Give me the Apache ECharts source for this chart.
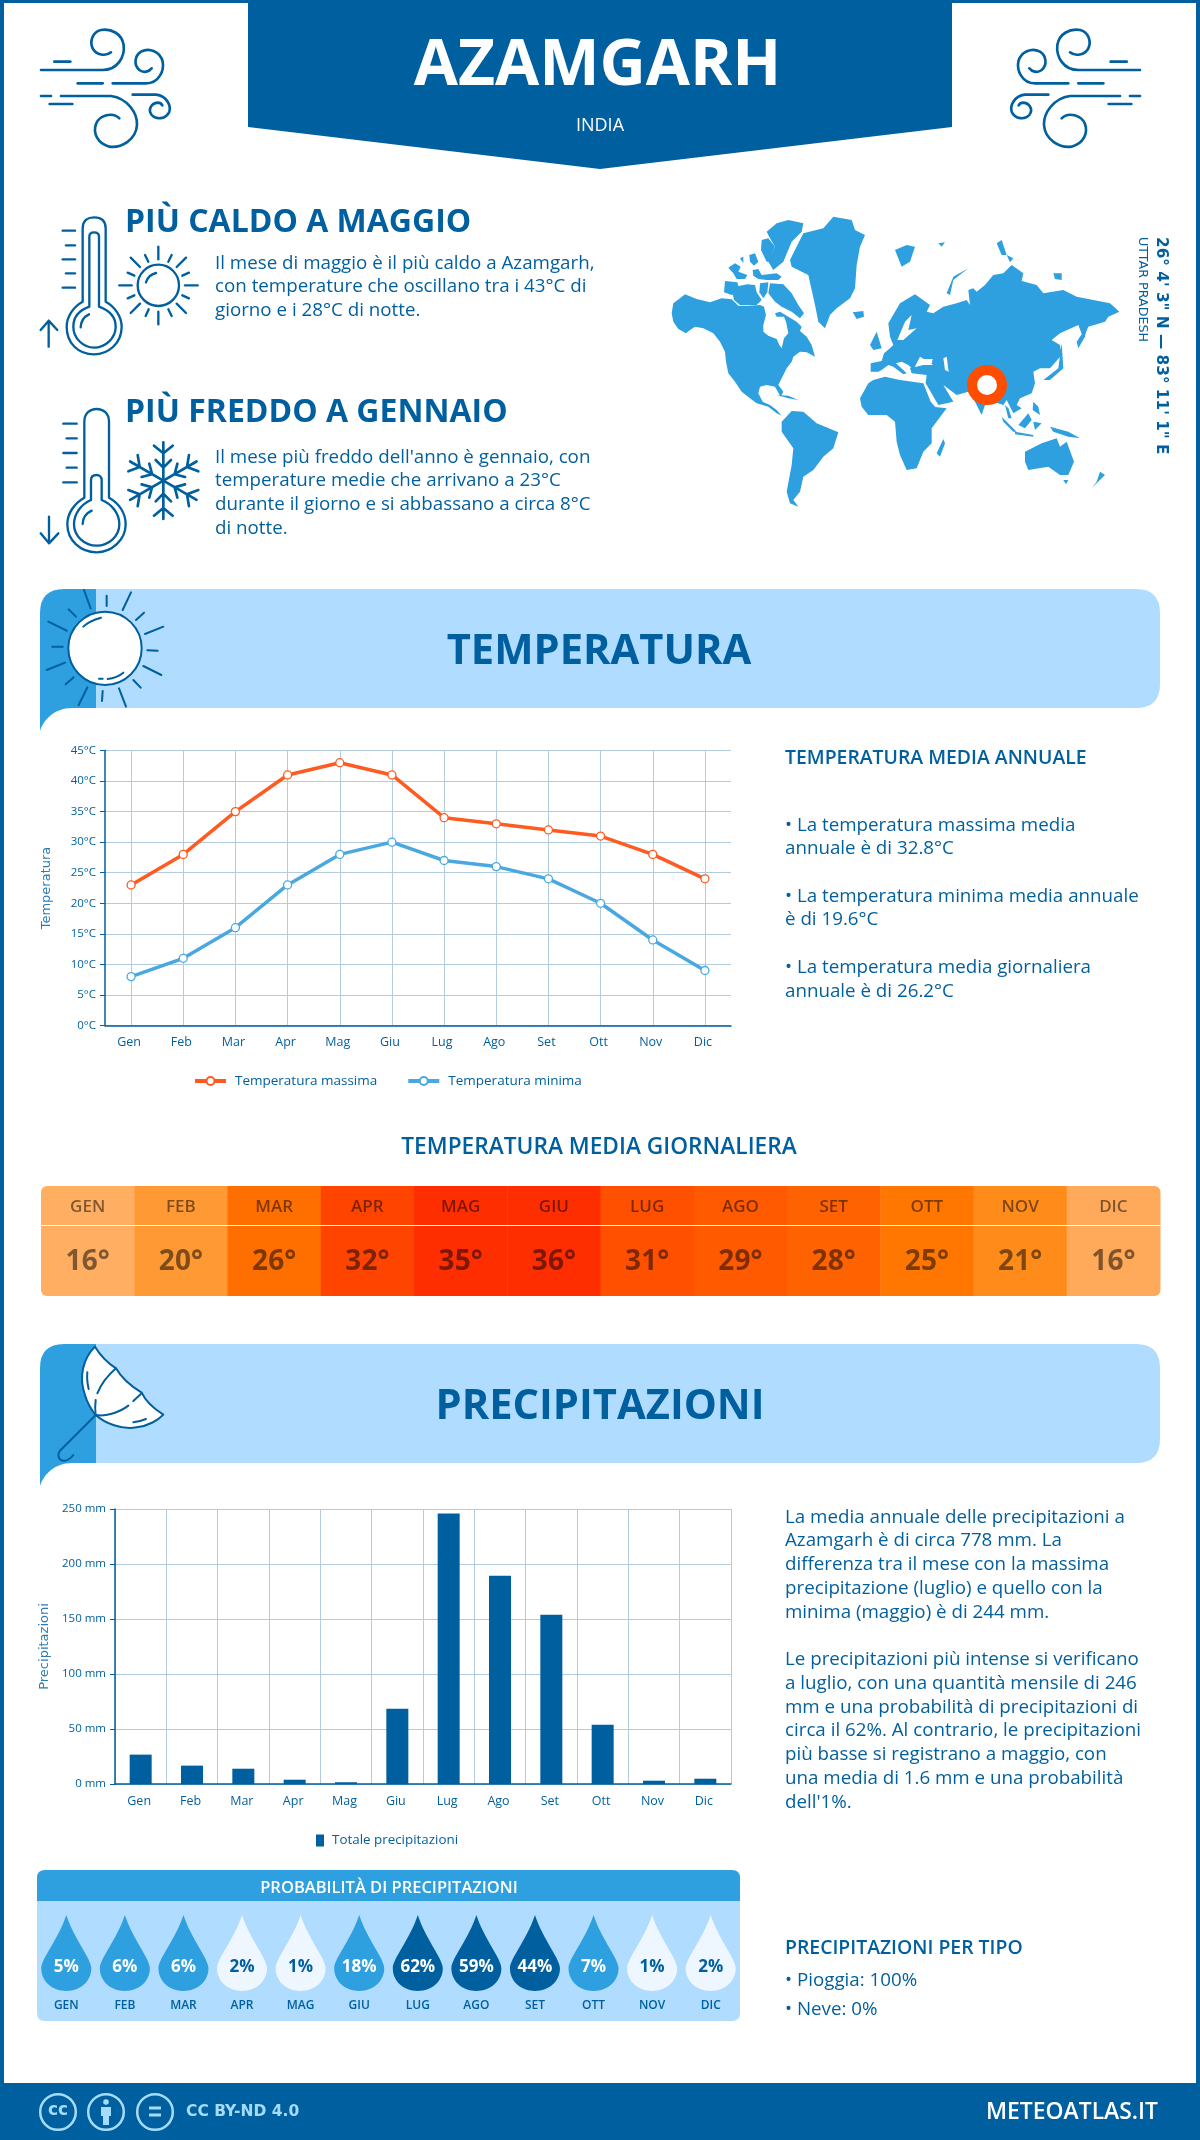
<!DOCTYPE html>
<html>
<head>
<meta charset="utf-8">
<title>Azamgarh</title>
<script src="https://cdn.jsdelivr.net/npm/echarts@6/dist/echarts.min.js"></script>
<style>
html, body { margin: 0; padding: 0; background: #fff; }
#main { width: 1200px; height: 2140px; }
</style>
</head>
<body>
<div id="main"></div>
<script>
'use strict';

var months = ['Gen', 'Feb', 'Mar', 'Apr', 'Mag', 'Giu', 'Lug', 'Ago', 'Set', 'Ott', 'Nov', 'Dic'];
var monthsUpper = ['GEN', 'FEB', 'MAR', 'APR', 'MAG', 'GIU', 'LUG', 'AGO', 'SET', 'OTT', 'NOV', 'DIC'];
var tempMax = [23, 28, 35, 41, 43, 41, 34, 33, 32, 31, 28, 24];
var tempMin = [8, 11, 16, 23, 28, 30, 27, 26, 24, 20, 14, 9];
var dailyTemp = [16, 20, 26, 32, 35, 36, 31, 29, 28, 25, 21, 16];
var rain = [26.7, 16.7, 13.9, 3.9, 1.6, 68.5, 246, 189.4, 153.9, 53.9, 3, 4.8];
var rainProb = [5, 6, 6, 2, 1, 18, 62, 59, 44, 7, 1, 2];

var BLUE = '#005f9e', SKY = '#2e9fdf', PALE = '#b0dcff', GRIDC = '#b3cbde';
var FONT = '"Open Sans"';
var BODY = '18.75px ' + FONT, HEAD = '600 19.4px ' + FONT;
var heatColors = ['#ffae62', '#ff9933', '#ff6f00', '#ff4400', '#ff2e00', '#ff2e00', '#ff5000', '#ff5a00', '#ff6200', '#ff7700', '#ff8c1a', '#ffa95a'];

// world map outline, traced in a 3x crop of the picture (origin 660,205)
var mapLand = [
    [[40,295],[60,280],[75,268],[110,282],[150,292],[185,280],[215,283],[235,302],[265,302],[300,300],[312,305],[318,330],[310,360],[310,380],[325,392],[350,402],[358,420],[365,430],[372,400],[385,385],[378,350],[372,335],[350,335],[345,325],[360,320],[385,335],[410,350],[425,365],[420,378],[440,395],[455,420],[465,455],[440,442],[420,440],[400,455],[395,470],[380,490],[365,520],[355,540],[370,560],[362,575],[345,545],[320,540],[300,545],[295,565],[308,590],[330,600],[350,615],[365,632],[350,625],[325,605],[290,595],[268,578],[245,560],[225,530],[205,505],[198,470],[195,440],[180,410],[160,385],[130,370],[105,365],[90,375],[50,408],[78,385],[55,372],[40,350],[35,325]],
    [[320,80],[350,55],[385,45],[430,55],[425,80],[395,110],[370,170],[340,195],[325,170],[345,125],[330,100]],
    [[330,235],[370,238],[395,265],[415,300],[432,325],[420,340],[395,320],[365,305],[345,290],[325,265]],
    [[195,228],[232,232],[240,262],[215,270],[192,262]],
    [[218,265],[225,245],[262,238],[285,240],[290,262],[305,285],[290,300],[240,300],[222,285]],
    [[205,188],[225,175],[242,185],[235,200],[262,210],[255,222],[230,222],[220,205]],
    [[278,195],[295,192],[305,210],[350,205],[365,215],[355,225],[320,225],[295,222],[280,212]],
    [[305,105],[325,100],[345,125],[335,150],[340,170],[320,170],[303,135]],
    [[268,150],[285,145],[295,170],[282,182],[270,170]],
    [[240,160],[250,155],[250,175]],
    [[300,235],[325,232],[322,262],[310,280],[298,262]],
    [[390,165],[430,85],[490,70],[520,35],[575,45],[585,75],[615,90],[600,125],[590,180],[585,250],[570,280],[530,310],[510,330],[495,370],[475,350],[465,300],[445,210],[395,185]],
    [[578,322],[610,318],[612,335],[590,342]],
    [[365,650],[395,618],[430,620],[470,655],[535,682],[520,730],[490,755],[460,795],[430,815],[420,860],[400,885],[415,905],[390,895],[380,860],[395,780],[400,730],[365,680]],
    [[600,580],[625,535],[640,525],[675,515],[720,525],[790,535],[812,590],[826,606],[860,610],[815,670],[815,715],[790,740],[770,790],[740,795],[720,750],[710,710],[705,650],[680,630],[625,630],[605,605]],
    [[830,745],[850,702],[855,715],[840,755]],
    [[632,500],[632,475],[665,468],[672,445],[690,430],[700,420],[690,395],[685,355],[720,295],[765,268],[810,300],[800,320],[820,325],[850,305],[890,295],[920,285],[930,300],[925,255],[940,250],[950,260],[975,240],[1000,210],[1030,205],[1055,180],[1090,205],[1085,228],[1130,240],[1150,265],[1210,255],[1250,275],[1300,285],[1350,295],[1378,320],[1345,335],[1335,350],[1285,365],[1270,400],[1255,360],[1200,385],[1175,405],[1200,420],[1205,450],[1170,490],[1140,490],[1120,500],[1125,535],[1115,565],[1080,580],[1070,600],[1085,610],[1060,625],[1040,585],[1030,600],[1000,590],[975,600],[965,630],[945,590],[925,560],[890,570],[850,540],[880,590],[835,600],[797,535],[800,510],[755,505],[750,490],[790,480],[820,480],[780,455],[770,475],[760,495],[745,480],[725,470],[708,475],[740,505],[730,508],[700,485],[685,480],[665,495],[655,500]],
    [[630,420],[650,380],[665,430],[640,435]],
    [[860,265],[880,215],[925,190],[880,225],[870,270]],
    [[705,135],[740,120],[765,125],[750,170],[725,185]],
    [[835,115],[855,112],[845,125]],
    [[1010,115],[1025,105],[1040,150],[1025,150]],
    [[1040,150],[1060,160],[1050,172]],
    [[1180,205],[1205,205],[1205,225],[1185,222]],
    [[1250,410],[1280,365],[1275,395],[1255,430]],
    [[1150,525],[1195,490],[1205,415],[1210,490],[1170,525]],
    [[1025,635],[1070,680],[1060,680],[1030,650]],
    [[1065,680],[1120,690],[1120,695],[1065,688]],
    [[1075,660],[1105,625],[1115,645],[1095,670]],
    [[1120,650],[1145,655],[1125,675]],
    [[1170,665],[1225,680],[1260,700],[1225,695],[1180,680]],
    [[1120,590],[1135,605],[1140,630],[1118,615]],
    [[1035,600],[1045,610],[1055,640],[1045,640]],
    [[1095,740],[1145,715],[1190,700],[1200,725],[1220,710],[1242,770],[1225,810],[1200,810],[1165,785],[1105,795],[1095,770]],
    [[1210,825],[1225,825],[1218,838]],
    [[1295,850],[1335,810],[1320,800],[1310,830]],
    [[350,570],[385,572],[415,585],[385,580]]
];
var mapWater = [
    [[735,350],[755,330],[745,375],[770,370],[730,405],[712,405]],
    [[785,462],[818,462],[815,476],[792,474]],
    [[850,460],[860,455],[866,500],[855,495]]
];

function txt(text, x, y, font, fill, align) {
    return {
        type: 'text', x: x, y: y + 1,
        style: {
            text: text, font: font, fill: fill || BLUE,
            align: align || 'left', textAlign: align || 'left',
            verticalAlign: 'middle', textVerticalAlign: 'middle'
        }
    };
}

function icon(x, y, paths, lineWidth, sx) {
    return {
        type: 'group', x: x, y: y, scaleX: sx || 1 / 3, scaleY: 1 / 3,
        children: paths.map(function (d) {
            return { type: 'path', shape: { pathData: d }, style: { fill: 'none', stroke: BLUE, lineWidth: lineWidth, lineCap: 'round', lineJoin: 'round' } };
        })
    };
}

function band(top, label, cx) {
    var b = top + 119, c = top + 142;
    return [
        { type: 'path', shape: { pathData: 'M96,' + top + ' H1136 Q1160,' + top + ' 1160,' + (top + 24) + ' V' + (b - 24) + ' Q1160,' + b + ' 1136,' + b + ' H96 Z' }, style: { fill: PALE } },
        { type: 'path', shape: { pathData: 'M96,' + top + ' H64 Q40,' + top + ' 40,' + (top + 24) + ' V' + c + ' C44,' + (b + 11) + ' 55,' + b + ' 72,' + b + ' H96 Z' }, style: { fill: SKY } },
        txt(label, cx, top + 62, 'bold 41.7px ' + FONT, BLUE, 'center')
    ];
}

var windPaths = [
    'M30,150 H215 C260,150 282,110 278,75 C272,40 240,25 210,30 C185,35 175,65 185,85 C195,105 225,110 240,97',
    'M70,125 H118',
    'M245,190 H345 C385,190 400,150 395,125 C388,95 355,82 330,95 C310,108 308,135 325,150 C338,160 355,155 362,145',
    'M140,190 H215',
    'M90,228 H240 C290,235 320,280 318,315 C315,360 270,385 235,380 C200,370 185,340 195,312 C205,285 245,275 265,295',
    'M30,228 H60', 'M56,252 H124',
    'M305,224 H375 C410,228 420,260 415,275 C405,298 375,300 362,285 C350,270 360,250 380,248 C388,248 392,252 394,256'
];
var hotPaths = [
    'M158,290 V70 C158,45 175,37 192,37 C210,37 227,45 227,70 V290 C255,305 275,335 275,365 C275,415 235,448 192,448 C145,448 110,415 110,365 C110,335 130,305 158,290 Z',
    'M178,305 V95 C178,85 185,82 192,82 C200,82 207,85 207,95 V305 C235,315 257,335 257,365 C257,400 225,428 192,428 C160,428 130,400 130,365 C130,335 150,315 178,305 Z',
    'M152,367 C153,350 162,335 177,328',
    'M98,77 H135', 'M108,121 H135', 'M98,163 H135', 'M108,205 H135', 'M98,248 H135',
    'M56,425 V347 M32,375 L56,347 L82,375',
    'M323,241 A62,62 0 1 1 447,241 A62,62 0 1 1 323,241 Z',
    'M348,232 C352,218 362,208 378,204',
    'M385,125 V163', 'M385,320 V358', 'M268,241 H305', 'M465,241 H503',
    'M302,158 L330,186', 'M468,158 L440,186', 'M302,324 L330,296', 'M468,324 L440,296',
    'M345,150 L355,170', 'M425,150 L415,170', 'M293,203 L313,212', 'M477,203 L457,212',
    'M293,280 L313,271', 'M477,280 L457,271', 'M347,333 L356,313', 'M425,333 L415,313'
];
var coldPaths = [
    'M163,878 V650 C163,625 180,612 200,612 C220,612 237,625 237,650 V878 C268,895 287,925 287,958 C287,1005 245,1042 200,1042 C150,1042 112,1005 112,958 C112,925 133,895 163,878 Z',
    'M183,885 V825 C183,815 190,810 200,810 C208,810 215,815 215,825 V885 C245,897 268,925 268,958 C268,995 235,1022 200,1022 C165,1022 132,995 132,958 C132,925 155,897 183,885 Z',
    'M158,957 C158,940 168,925 185,917',
    'M100,656 H140', 'M110,700 H140', 'M100,744 H140', 'M110,788 H140', 'M100,832 H140',
    'M57,935 V1015 M32,985 L57,1015 L85,985'
];
var sunRays = [
    'M162,30 L182,85', 'M230,47 L230,78', 'M303,37 L278,90', 'M342,98 L318,120', 'M400,140 L345,162', 'M352,211 L383,212',
    'M340,258 L394,285', 'M310,300 L332,323', 'M267,325 L288,380', 'M218,333 L216,363', 'M172,322 L146,375', 'M131,292 L107,313',
    'M105,248 L50,270', 'M98,200 L67,200', 'M110,152 L55,125', 'M138,110 L116,88',
    'M160,140 C175,125 195,118 213,113', 'M207,296 H218', 'M233,297 C250,295 268,288 280,278'
];
var umbrellaRibs = [
    'M258,85 C235,105 212,135 202,160', 'M197,180 C195,195 195,210 197,225', 'M197,225 C225,230 265,220 295,197',
    'M310,183 L335,160', 'M172,97 C170,115 172,130 176,147', 'M310,247 C322,245 335,242 348,237',
    'M197,225 L92,330 C78,345 88,365 105,362 C115,360 122,355 130,345'
];

// ---- static page parts, the graphic component has no svg path so a custom series draws them
var page = [];

page.push({ type: 'rect', shape: { x: 0, y: 0, width: 1200, height: 3 }, style: { fill: BLUE } });
page.push({ type: 'rect', shape: { x: 0, y: 0, width: 4, height: 2140 }, style: { fill: BLUE } });
page.push({ type: 'rect', shape: { x: 1196, y: 0, width: 4, height: 2140 }, style: { fill: BLUE } });
page.push({ type: 'path', shape: { pathData: 'M248,0 H952 V127 L600,169 L248,127 Z' }, style: { fill: BLUE } });
page.push(txt('AZAMGARH', 597.5, 65.5, 'bold 64px ' + FONT, '#fff', 'center'));
page.push(txt('INDIA', 600, 125, '18px ' + FONT, '#fff', 'center'));
page.push(icon(31, 20, windPaths, 8));
page.push(icon(1150, 20, windPaths, 8, -1 / 3));

page.push(txt('PIÙ CALDO A MAGGIO', 125, 221.5, 'bold 32px ' + FONT));
page.push(txt('Il mese di maggio è il più caldo a Azamgarh,', 215, 263, BODY));
page.push(txt('con temperature che oscillano tra i 43°C di', 215, 286, BODY));
page.push(txt('giorno e i 28°C di notte.', 215, 310, BODY));
page.push(txt('PIÙ FREDDO A GENNAIO', 125, 411.5, 'bold 32px ' + FONT));
page.push(txt("Il mese più freddo dell'anno è gennaio, con", 215, 457, BODY));
page.push(txt('temperature medie che arrivano a 23°C', 215, 480, BODY));
page.push(txt('durante il giorno e si abbassano a circa 8°C', 215, 504, BODY));
page.push(txt('di notte.', 215, 528, BODY));
page.push(icon(30, 205, hotPaths, 7));
page.push(icon(30, 205, coldPaths, 7));
for (var k = 0; k < 6; k++) {
    page.push({
        type: 'group', x: 30, y: 205, scaleX: 1 / 3, scaleY: 1 / 3,
        children: [{
            type: 'path', originX: 400, originY: 827, rotation: k * Math.PI / 3,
            shape: { pathData: 'M400,827 V712 M372,722 L400,745 L428,722 M377,765 L400,788 L423,765' },
            style: { fill: 'none', stroke: BLUE, lineWidth: 8, lineCap: 'round', lineJoin: 'round' }
        }]
    });
}

page.push({
    type: 'group', x: 660, y: 205, scaleX: 1 / 3, scaleY: 1 / 3,
    children: mapLand.map(function (p) {
        return { type: 'polygon', shape: { points: p }, style: { fill: SKY } };
    }).concat(mapWater.map(function (p) {
        return { type: 'polygon', shape: { points: p }, style: { fill: '#fff' } };
    }))
});
page.push({ type: 'circle', shape: { cx: 987, cy: 385, r: 15 }, style: { fill: '#fff', stroke: '#ff4d00', lineWidth: 10 } });
var latText = txt('26° 4\' 3" N — 83° 11\' 1" E', 1161, 236, 'bold 15.3px "DejaVu Sans"');
latText.rotation = -Math.PI / 2;
page.push(latText);
var regionText = txt('UTTAR PRADESH', 1142, 236, '12.7px "DejaVu Sans"');
regionText.rotation = -Math.PI / 2;
page.push(regionText);

page = page.concat(band(589, 'TEMPERATURA', 599));
page.push({ type: 'group', x: 30, y: 580, scaleX: 1 / 3, scaleY: 1 / 3, children: [
    { type: 'circle', shape: { cx: 225, cy: 205, r: 110 }, style: { fill: '#fff', stroke: BLUE, lineWidth: 6 } }
] });
page.push(icon(30, 580, sunRays, 6));

page.push(txt('TEMPERATURA MEDIA ANNUALE', 785, 757, HEAD));
page.push(txt('• La temperatura massima media', 785, 825, BODY));
page.push(txt('annuale è di 32.8°C', 785, 848, BODY));
page.push(txt('• La temperatura minima media annuale', 785, 896, BODY));
page.push(txt('è di 19.6°C', 785, 919, BODY));
page.push(txt('• La temperatura media giornaliera', 785, 967, BODY));
page.push(txt('annuale è di 26.2°C', 785, 991, BODY));
page.push(txt('TEMPERATURA MEDIA GIORNALIERA', 599, 1147, '600 22.7px ' + FONT, BLUE, 'center'));

page = page.concat(band(1344, 'PRECIPITAZIONI', 600));
page.push({ type: 'group', x: 30, y: 1340, scaleX: 1 / 3, scaleY: 1 / 3, children: [
    { type: 'path', shape: { pathData: 'M195,20 C160,55 145,110 165,165 C172,190 185,210 197,225 C225,250 275,270 320,262 C355,258 385,240 400,224 C370,205 345,180 335,158 C305,140 275,115 258,85 C235,70 210,45 195,20 Z' }, style: { fill: '#fff', stroke: BLUE, lineWidth: 6, lineJoin: 'round' } }
] });
page.push(icon(30, 1340, umbrellaRibs, 6));

[['La media annuale delle precipitazioni a', 1517], ['Azamgarh è di circa 778 mm. La', 1540], ['differenza tra il mese con la massima', 1564],
    ['precipitazione (luglio) e quello con la', 1588], ['minima (maggio) è di 244 mm.', 1612],
    ['Le precipitazioni più intense si verificano', 1659], ['a luglio, con una quantità mensile di 246', 1683],
    ['mm e una probabilità di precipitazioni di', 1707], ['circa il 62%. Al contrario, le precipitazioni', 1730],
    ['più basse si registrano a maggio, con', 1754], ['una media di 1.6 mm e una probabilità', 1778], ["dell'1%.", 1802]
].forEach(function (l) {
    page.push(txt(l[0], 785, l[1], BODY));
});

page.push({ type: 'path', shape: { pathData: 'M37,1901 V1878 Q37,1870 45,1870 H732 Q740,1870 740,1878 V1901 Z' }, style: { fill: SKY } });
page.push({ type: 'path', shape: { pathData: 'M37,1901 H740 V2013 Q740,2021 732,2021 H45 Q37,2021 37,2013 Z' }, style: { fill: PALE } });
page.push(txt('PROBABILITÀ DI PRECIPITAZIONI', 389, 1887, '600 16.5px ' + FONT, '#fff', 'center'));
page.push(txt('PRECIPITAZIONI PER TIPO', 785, 1947, HEAD));
page.push(txt('• Pioggia: 100%', 785, 1980, BODY));
page.push(txt('• Neve: 0%', 785, 2009, BODY));

page.push({ type: 'rect', shape: { x: 0, y: 2083, width: 1200, height: 57 }, style: { fill: BLUE } });
[58, 106, 155].forEach(function (cx) {
    page.push({ type: 'circle', shape: { cx: cx, cy: 2112, r: 17.8 }, style: { fill: 'none', stroke: '#a5dcfb', lineWidth: 2.5 } });
});
page.push(txt('cc', 58, 2109.5, 'bold 17px "DejaVu Sans"', '#a5dcfb', 'center'));
page.push({ type: 'circle', shape: { cx: 106, cy: 2102, r: 2.8 }, style: { fill: '#a5dcfb' } });
page.push({ type: 'path', shape: { pathData: 'M101,2107 H111 V2116 H109 V2125 H103 V2116 H101 Z' }, style: { fill: '#a5dcfb' } });
page.push({ type: 'rect', shape: { x: 149, y: 2106.5, width: 12, height: 3 }, style: { fill: '#a5dcfb' } });
page.push({ type: 'rect', shape: { x: 149, y: 2113.5, width: 12, height: 3 }, style: { fill: '#a5dcfb' } });
page.push(txt('CC BY-ND 4.0', 186, 2111, 'bold 15.5px "DejaVu Sans"', '#a5dcfb'));
page.push(txt('METEOATLAS.IT', 1158, 2111, '600 22.9px ' + FONT, '#fff', 'right'));

// ---- axes shared by the two charts
function catAxis(gridIndex, rightPad, margin, onLabel) {
    return {
        type: 'category', gridIndex: gridIndex, data: months,
        axisLine: { lineStyle: { color: BLUE, width: 1.5 } },
        axisTick: { show: false },
        axisLabel: { color: BLUE, fontFamily: FONT, fontSize: 12.5, margin: margin, padding: [0, rightPad, 0, 0] },
        splitLine: { show: true, alignWithLabel: onLabel, lineStyle: { color: GRIDC, width: 1 } }
    };
}
function valAxis(gridIndex, max, interval, fmt, name, nameSize, nameGap) {
    return {
        type: 'value', gridIndex: gridIndex, min: 0, max: max, interval: interval,
        name: name, nameLocation: 'middle', nameRotate: 90, nameGap: nameGap,
        nameTextStyle: { color: '#2a7db5', fontFamily: 'DejaVu Sans', fontSize: nameSize },
        axisLine: { show: true, lineStyle: { color: BLUE, width: 1.5 } },
        axisTick: { show: true, length: 5, lineStyle: { color: BLUE } },
        axisLabel: { color: BLUE, fontFamily: FONT, fontSize: 11.5, margin: 9, formatter: fmt },
        splitLine: { lineStyle: { color: GRIDC, width: 1 } }
    };
}

function lineSeries(name, values, color) {
    return {
        type: 'line', name: name, data: values, xAxisIndex: 0, yAxisIndex: 0,
        symbol: 'circle', symbolSize: 8, showAllSymbol: true,
        lineStyle: { color: color, width: 3.5 },
        itemStyle: { color: '#fff', borderColor: color, borderWidth: 1.3 }
    };
}

// one row of the daily temperature strip
function stripRow(gridIndex, rowData, font, rowTop, textShift) {
    return {
        type: 'custom', xAxisIndex: gridIndex, yAxisIndex: gridIndex, data: rowData,
        renderItem: function (params, api) {
            var i = params.dataIndex, box = params.coordSys;
            var w = api.size([1, 0])[0], cx = api.coord([i, 0])[0];
            var r = rowTop ? [i === 0 ? 6 : 0, i === 11 ? 6 : 0, 0, 0] : [0, 0, i === 11 ? 6 : 0, i === 0 ? 6 : 0];
            return {
                type: 'group',
                children: [
                    { type: 'rect', shape: { x: cx - w / 2, y: box.y, width: w + 0.5, height: box.height, r: r }, style: { fill: heatColors[i] } },
                    { type: 'text', x: cx, y: box.y + box.height / 2 + textShift, style: { text: String(rowData[i]), font: font, fill: 'rgba(0,0,0,0.5)', align: 'center', textAlign: 'center', verticalAlign: 'middle', textVerticalAlign: 'middle' } }
                ]
            };
        }
    };
}

var dropSymbol = 'path://M25,0 C33,28 50,50 50,61 C50,76 39,87 25,87 C11,87 0,76 0,61 C0,50 17,28 25,0 Z';
function dropStyle(p) {
    if (p <= 2) { return { fill: '#eef7ff', text: BLUE }; }
    if (p < 40) { return { fill: SKY, text: '#fff' }; }
    return { fill: BLUE, text: '#fff' };
}

var hiddenCat = { type: 'category', data: months, show: false };
var chart = echarts.init(document.getElementById('main'), null, { renderer: 'canvas' });
chart.setOption({
    animation: false,
    backgroundColor: '#fff',
    grid: [
        { left: 105, right: 469, top: 750.5, height: 275 },
        { left: 115, right: 469, top: 1509, height: 275 },
        { left: 41, right: 40, top: 1186, height: 39 },
        { left: 41, right: 40, top: 1226, height: 70 },
        { left: 37, right: 460, top: 1915, height: 76 }
    ],
    xAxis: [
        catAxis(0, 4, 10.5, true),
        catAxis(1, 3, 11, false),
        Object.assign({ gridIndex: 2 }, hiddenCat),
        Object.assign({ gridIndex: 3 }, hiddenCat),
        {
            type: 'category', gridIndex: 4, data: monthsUpper,
            axisLine: { show: false }, axisTick: { show: false }, splitLine: { show: false },
            axisLabel: { color: BLUE, fontFamily: FONT, fontWeight: 600, fontSize: 12, margin: 9 }
        }
    ],
    yAxis: [
        valAxis(0, 45, 5, '{value}°C', 'Temperatura', 13, 52),
        valAxis(1, 250, 50, '{value} mm', 'Precipitazioni', 13, 56),
        { type: 'value', gridIndex: 2, show: false, min: 0, max: 1 },
        { type: 'value', gridIndex: 3, show: false, min: 0, max: 1 },
        { type: 'category', gridIndex: 4, show: false, data: ['drop'] }
    ],
    legend: [
        {
            left: 193, top: 1074, padding: 0, itemWidth: 31, itemHeight: 10, itemGap: 29,
            data: ['Temperatura massima', 'Temperatura minima'],
            lineStyle: { width: 4 },
            textStyle: { color: BLUE, fontFamily: FONT, fontSize: 13.5, padding: [0, 0, 0, 4] }
        },
        {
            left: 316, top: 1834, padding: 0, itemWidth: 8, itemHeight: 12,
            data: [{ name: 'Totale precipitazioni', icon: 'rect' }],
            textStyle: { color: BLUE, fontFamily: FONT, fontSize: 13.4, padding: [0, 0, 0, 3] }
        }
    ],
    series: [
        {
            type: 'custom', coordinateSystem: 'none', z: 0, silent: true, data: [0],
            renderItem: function () {
                return { type: 'group', children: page };
            }
        },
        lineSeries('Temperatura massima', tempMax, '#ff5a1f'),
        lineSeries('Temperatura minima', tempMin, '#4aa8e0'),
        {
            type: 'bar', name: 'Totale precipitazioni', data: rain, xAxisIndex: 1, yAxisIndex: 1,
            barWidth: 22, itemStyle: { color: BLUE }
        },
        stripRow(2, monthsUpper, '600 17px ' + FONT, true, 2),
        stripRow(3, dailyTemp.map(function (t) { return t + '°'; }), 'bold 28px ' + FONT, false, 1.5),
        {
            type: 'scatter', xAxisIndex: 4, yAxisIndex: 4, symbol: dropSymbol, symbolSize: [50, 76],
            data: rainProb.map(function (p, i) {
                var s = dropStyle(p);
                return {
                    value: [i, 0, p],
                    itemStyle: { color: s.fill, opacity: 1 },
                    label: { show: true, position: 'inside', offset: [0, 14], formatter: p + '%', color: s.text, fontFamily: FONT, fontWeight: 'bold', fontSize: 17 }
                };
            })
        }
    ]
});
</script>
</body>
</html>
